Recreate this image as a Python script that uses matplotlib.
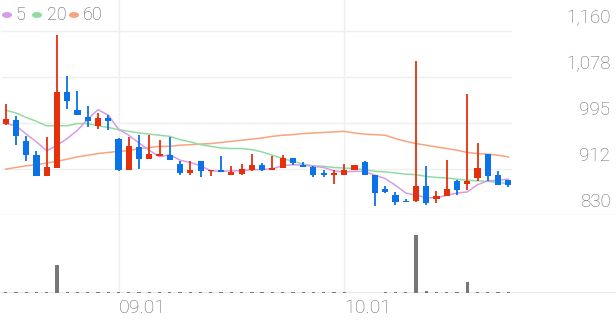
import matplotlib
matplotlib.use("Agg")
import matplotlib.pyplot as plt
import numpy as np

plt.rcParams["font.family"] = ["Roboto", "DejaVu Sans"]

# daily candles (index 0..49), prices
opens = [993, 1001, 963, 938, 899, 914, 1051, 1019, 1006, 989,
         1004, 966, 911, 952, 931, 936, 938, 922, 905, 927,
         908, 911, 902, 903, 911, 920, 911, 914, 932, 919,
         915, 905, 902, 902, 911, 925, 902, 877, 866, 855,
         855, 881, 858, 863, 891, 885, 896, 939, 902, 893]
highs = [1029, 1007, 971, 944, 969, 1153, 1080, 1053, 1025, 1013,
         1009, 968, 969, 974, 974, 964, 969, 927, 927, 927,
         911, 935, 917, 921, 939, 923, 935, 937, 932, 925,
         917, 911, 911, 921, 920, 926, 902, 881, 871, 859,
         1106, 918, 872, 929, 893, 1048, 959, 939, 909, 893]
lows = [992, 956, 926, 899, 899, 914, 1021, 1009, 987, 985,
        983, 908, 911, 913, 931, 936, 928, 901, 901, 897,
        900, 907, 902, 901, 909, 909, 911, 914, 919, 915,
        897, 897, 885, 902, 911, 901, 845, 869, 848, 852,
        853, 848, 851, 863, 866, 875, 891, 891, 884, 880]
closes = [1003, 971, 938, 899, 915, 1051, 1034, 1010, 998, 1004,
          998, 911, 953, 930, 939, 939, 928, 905, 911, 908,
          911, 907, 906, 912, 920, 911, 914, 932, 923, 915,
          902, 902, 904, 911, 920, 902, 869, 871, 852, 852,
          881, 851, 864, 876, 874, 890, 914, 900, 884, 883]

ma5 = [994, 990, 975, 961, 945, 955, 967, 982, 1002, 1019,
       1009, 984, 973, 959, 946, 934, 938, 928, 924, 918,
       909, 908, 909, 909, 911, 911, 913, 918, 920, 919,
       917, 915, 909, 907, 908, 908, 901, 895, 883, 869,
       865, 861, 860, 865, 869, 871, 884, 891, 892, 894]
ma20 = [1018, 1013, 1005, 998, 990, 990, 990, 994, 994, 990,
        987, 983, 980, 977, 975, 973, 971, 965, 961, 956,
        953, 950, 949, 949, 947, 943, 937, 931, 926, 921,
        918, 917, 915, 914, 913, 911, 908, 907, 905, 903,
        902, 899, 897, 896, 894, 892, 891, 890, 888, 886]
ma60 = [912, 915, 918, 920, 923, 926, 930, 934, 937, 940,
        942, 944, 945, 949, 951, 953, 953, 955, 956, 957,
        958, 960, 962, 964, 966, 968, 971, 973, 974, 976,
        977, 978, 979, 980, 977, 975, 974, 973, 967, 962,
        958, 955, 952, 949, 946, 942, 940, 939, 937, 934]

volume = [90, 90, 90, 90, 90, 2800, 150, 90, 90, 90,
          90, 90, 90, 90, 90, 90, 90, 90, 90, 90,
          90, 90, 90, 90, 90, 90, 90, 90, 90, 90,
          90, 90, 90, 90, 0, 0, 0, 90, 90, 90,
          5800, 250, 90, 90, 90, 1100, 90, 90, 90, 90]

price_ticks = [830, 912.5, 995, 1077.5, 1160]
price_labels = ["830", "912", "995", "1,078", "1,160"]
month_idx = [11, 33]
month_labels = ["09.01", "10.01"]

RED = "#e5300e"
BLUE = "#0b72e7"
C5, C20, C60 = "#d69be9", "#92dca2", "#f7a47f"
GRID = "#efefef"
TXT = "#6a6a6a"

W, H = 616, 321
fig = plt.figure(figsize=(W / 100, H / 100), dpi=100)
ax = fig.add_axes([0, (H - 214.7) / H, 1, 214.7 / H])
axv = fig.add_axes([0, (H - 293) / H, 1, (293 - 214.7) / H])

xlim = (-5.7 / 10.257, (W - 5.7) / 10.257)
for a in (ax, axv):
    a.set_xlim(*xlim)
    a.axis("off")
ax.set_ylim(830, 1160 + 31.3 / 0.5558)
axv.set_ylim(0, 7830)

x = np.arange(len(closes))

# grid
for v in price_ticks[1:]:
    ax.axhline(v, xmin=0.003, xmax=511 / W, color=GRID, lw=1, zorder=0)
ax.axhline(830, color="#e8e8e8", lw=1, zorder=0)
axv.axhline(0, color="#e3e3e3", lw=1.2, zorder=0)
for m in month_idx:
    ax.axvline(m, color=GRID, lw=1, zorder=0)
    axv.axvline(m, color=GRID, lw=1, zorder=0)

# moving averages
ax.plot(x, ma60, color=C60, lw=1.1, zorder=2)
ax.plot(x, ma20, color=C20, lw=1.1, zorder=2)
ax.plot(x, ma5, color=C5, lw=1.1, zorder=2)

# candles
o = np.array(opens); c = np.array(closes)
cols = [RED if cc >= oo else BLUE for oo, cc in zip(opens, closes)]
ax.vlines(x, lows, highs, colors=cols, lw=1.3, zorder=3)
body_lo = np.minimum(o, c)
body_h = np.maximum(np.abs(c - o), 2.5)
ax.bar(x, body_h, bottom=body_lo, width=0.6, color=cols, zorder=4)

# volume
axv.bar(x, volume, width=0.32, color="#777777", zorder=3)

# price labels
for v, s in zip(price_ticks, price_labels):
    ax.annotate(s, xy=(1, v), xycoords=("axes fraction", "data"),
                xytext=(-4, 9.5), textcoords="offset points",
                ha="right", va="center", fontsize=13.5, color=TXT,
                fontweight="light")

# month labels
for m, s in zip(month_idx, month_labels):
    axv.annotate(s, xy=(m, 0), xycoords=("data", "axes fraction"),
                 xytext=(0, -11), textcoords="offset points",
                 ha="left", va="center", fontsize=14, color=TXT,
                 fontweight="light")

# legend
legend = [("5", C5, 7, 15), ("20", C20, 37, 47), ("60", C60, 74, 83)]
for lab, col, cx, tx in legend:
    fig.patches.append(plt.Circle((cx / W, 1 - 15 / H), 4.3 / W, color=col,
                                  transform=fig.transFigure, figure=fig))
    fig.text(tx / W, 1 - 15 / H, lab, ha="left", va="center", fontsize=13,
             color="#5a5a5a", fontweight="light")

fig.savefig("out.png", dpi=100)
